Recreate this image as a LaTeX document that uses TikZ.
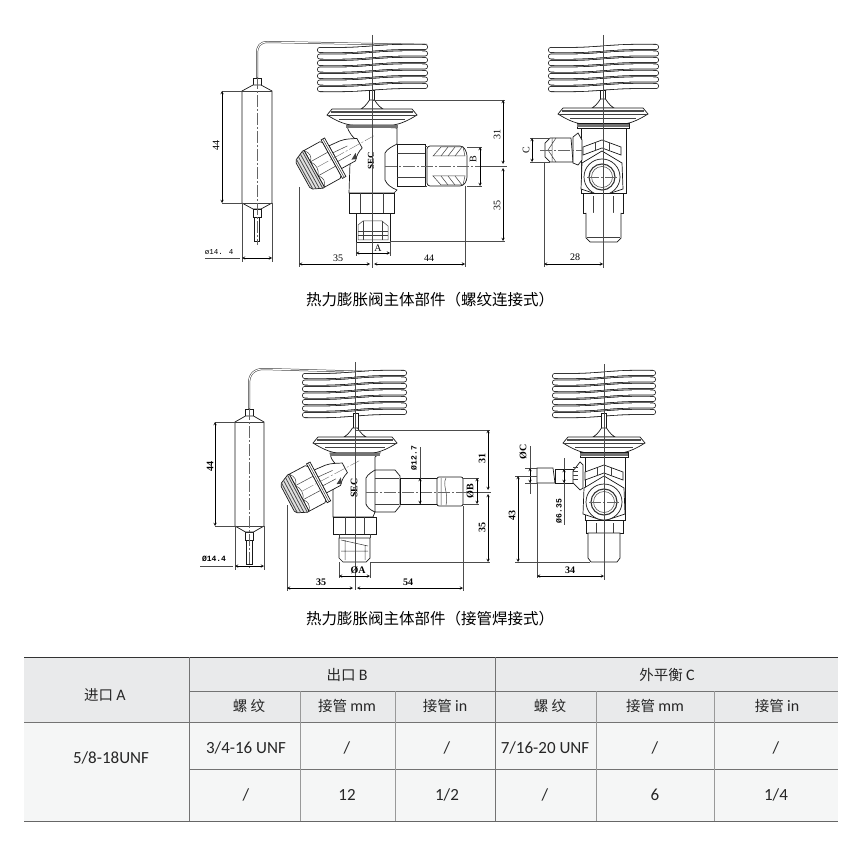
\documentclass[tikz,border=0pt]{standalone}
\usepackage{fontspec}
\setmainfont{Liberation Serif}
\newfontfamily\cjk{Noto Sans CJK SC}
\newfontfamily\monofnt{Liberation Mono}
\newfontfamily\tabfnt{Carlito}
\usetikzlibrary{arrows}
\definecolor{headgray}{HTML}{E9EAEB}
\definecolor{cellgray}{HTML}{F5F6F6}
\tikzstyle{part} = [line width=0.7pt, draw=black!90, fill=white]
\tikzstyle{detail} = [line width=0.5pt, draw=black!75]
\tikzstyle{tube} = [line width=0.8pt, draw=black!90, double=white, double distance=4.4pt, line cap=round]
\tikzstyle{capillary} = [line width=0.5pt, draw=black!80, double=white, double distance=1pt]
\tikzstyle{axis} = [line width=0.35pt, draw=black!60, dash pattern=on 12pt off 2pt on 2pt off 2pt]
\tikzstyle{extline} = [line width=0.45pt, draw=black!70]
\tikzstyle{dim} = [line width=0.45pt, draw=black, <->, >=stealth]
\tikzstyle{dimlabel} = [inner sep=0pt, font=\fontsize{10}{10}\selectfont]
\tikzstyle{dimbold} = [inner sep=0pt, font=\bfseries\fontsize{10}{10}\selectfont]
\tikzstyle{dialabel} = [inner sep=0pt, font=\monofnt\bfseries\fontsize{8}{8}\selectfont]
\tikzstyle{caption} = [inner sep=0pt, font=\cjk\fontsize{15.5}{15.5}\selectfont]
\tikzstyle{cell} = [inner sep=0pt, font=\tabfnt\fontsize{17}{17}\selectfont, text=black!85]
\tikzstyle{cnhead} = [inner sep=0pt, font=\cjk\fontsize{14.5}{14.5}\selectfont, text=black!85]
\tikzstyle{rule} = [line width=0.5pt, draw=black!55]
\newcommand{\latin}[1]{{\tabfnt\fontsize{16}{16}\selectfont #1}}

% left x, right x, top y of the capillary coil
\newcommand{\coilturns}[3]{
  \foreach \i in {6,5,...,0} {
    \draw [tube] ({#1+2},{#3+\i*6.5+3}) .. controls ({(#1+#2)/2},{#3+\i*6.5+4}) and ({(#1+#2)/2},{#3+\i*6.5-1}) .. ({#2-2},{#3+\i*6.5});
  }
}
% centre x, half width, top y of the diaphragm
\newcommand{\diaphragm}[3]{
  \draw [part] ({#1-11},{#3}) .. controls ({#1-6},{#3-3}) and ({#1-4},{#3-7}) .. ({#1-2.5},{#3-9}) -- ({#1+2.5},{#3-9}) .. controls ({#1+4},{#3-7}) and ({#1+6},{#3-3}) .. ({#1+11},{#3}) -- cycle;
  \draw [part] ({#1-#2},{#3+6}) -- ({#1-#2+5},{#3}) -- ({#1+#2-5},{#3}) -- ({#1+#2},{#3+6}) .. controls ({#1+#2-8},{#3+11}) and ({#1+#2-16},{#3+15}) .. ({#1+#2-24},{#3+16}) -- ({#1-#2+24},{#3+16}) .. controls ({#1-#2+16},{#3+15}) and ({#1-#2+8},{#3+11}) .. ({#1-#2},{#3+6}) -- cycle;
  \draw [line width=1.3pt, draw=black!70] ({#1-#2+4},{#3+3}) -- ({#1+#2-4},{#3+3});
  \draw [detail] ({#1-#2},{#3+6}) -- ({#1+#2},{#3+6});
  \draw [detail] ({#1-#2+12},{#3+10}) -- ({#1+#2-12},{#3+10});
}
% bulb: left x, right x, top y, bottom y
\newcommand{\sensorbulb}[4]{
  \draw [part] ({(#1+#2)/2-4},{#3-13}) rectangle ({(#1+#2)/2+4},{#3-6});
  \draw [part] ({(#1+#2)/2-3},{#4+12}) rectangle ({(#1+#2)/2+2.5},{#4+38});
  \draw [part] ({(#1+#2)/2-4},{#4+6}) rectangle ({(#1+#2)/2+4},{#4+14});
  \draw [part] (#1,#3) -- ({(#1+#2)/2-4},{#3-6}) -- ({(#1+#2)/2+4},{#3-6}) -- (#2,#3) -- (#2,#4) -- ({(#1+#2)/2+4},{#4+6}) -- ({(#1+#2)/2-4},{#4+6}) -- (#1,#4) -- cycle;
  \draw [detail] (#1,#3) -- (#2,#3) (#1,#4) -- (#2,#4);
  \draw [axis] ({(#1+#2)/2},{#3-14}) -- ({(#1+#2)/2},{#4+42});
}
% angled inlet: centre x, centre y, angle
\newcommand{\anglefit}[3]{
  \begin{scope}[shift={(#1,#2)}, rotate=#3]
    \draw [part] (14,-13) -- (26,-12) .. controls (33,-11) and (37,-8) .. (42,-6) -- (42,5) .. controls (38,6) and (33,9) .. (30,13) -- (14,13) -- cycle;
    \draw [detail] (14,-5) -- (30,-4) (14,5) -- (29,5);
    \fill [black!75] (27,10) -- (34,6) -- (32,12) -- cycle;
    \draw [part] (10,-22) rectangle (14,22);
    \draw [detail] (12,-22) -- (12,22);
    \draw [part] (-10,-21) -- (8,-21) -- (10,-19) -- (10,19) -- (8,21) -- (-10,21) -- cycle;
    \draw [detail] (-10,-8) -- (10,-8) (-10,8) -- (10,8);
    \draw [detail] (-10,-21) .. controls (-6,-16) and (-6,-12) .. (-10,-8) .. controls (-6,-3) and (-6,3) .. (-10,8) .. controls (-6,12) and (-6,16) .. (-10,21);
    \draw [part, fill=black!12, rounded corners=2pt] (-23,-16) -- (-10,-22) -- (-10,22) -- (-23,16) -- cycle;
    \foreach \u in {-21,-18,-15,-12} {
      \draw [line width=0.8pt, draw=black!70] (\u,{-16-(\u+23)*0.46}) -- (\u,{16+(\u+23)*0.46});
    }
    \draw [axis] (-6,0) -- (58,0);
  \end{scope}
}
% front face of the inlet in the side view: centre x, centre y
\newcommand{\facefit}[2]{
  \draw [part] ({#1-20},{#2-14}) -- ({#1},{#2-26}) -- ({#1+20},{#2-14}) -- ({#1+21},{#2+12}) -- ({#1},{#2+19}) -- ({#1-21},{#2+12}) -- cycle;
  \draw [part] ({#1-19},{#2-30}) -- ({#1},{#2-37}) -- ({#1+19},{#2-30}) -- ({#1+19},{#2-22}) -- ({#1},{#2-29}) -- ({#1-19},{#2-22}) -- cycle;
  \draw [detail] ({#1-7},{#2-34}) -- ({#1-7},{#2-26}) ({#1+7},{#2-34}) -- ({#1+7},{#2-26});
  \draw [part] (#1,#2) circle (18);
  \draw [line width=1.1pt, draw=black!80] (#1,#2) circle (13);
  \draw [detail] (#1,#2) circle (10.5);
  \draw [axis] ({#1-15},{#2}) -- ({#1+15},{#2});
}

\begin{document}
\begin{tikzpicture}[x=1pt, y=-1pt]
\useasboundingbox (0,0) rectangle (864,842);

% ---- threaded version, front view
\draw [capillary] (257,78) -- (257,54) .. controls (257,46) and (260,42) .. (268,42) -- (427,45);
\sensorbulb{242}{272}{91}{203}
\coilturns{318}{427}{47}
\draw [part] (369.5,90) rectangle (374.5,100);
\diaphragm{372}{45}{109}
\draw [part] (397,144) -- (425,144) -- (425,186) -- (397,186) -- cycle;
\draw [detail] (397,153) -- (425,153) (397,177) -- (425,177);
\draw [part] (347,125) .. controls (348,133) and (354,138) .. (358,142) -- (350,163) -- (349,193) -- (394,193) -- (397,190) .. controls (392,188) and (387,185) .. (385,180) -- (385,153) .. controls (387,149) and (393,146) .. (397,144) -- (397,128) -- cycle;
\draw [line width=2.4pt, draw=black!55] (346,126.5) -- (398,126.5);
\draw [part, rounded corners=3pt] (427,146) -- (463,146) -- (467,153) -- (467,180) -- (463,186) -- (427,186) -- cycle;
\draw [detail] (425,146) -- (427,146) (425,186) -- (427,186);
\draw [detail] (433,156) -- (441,147) -- (463,147) -- (465,156) -- cycle;
\draw [detail] (433,176) -- (441,185) -- (463,185) -- (465,176) -- cycle;
\foreach \h in {441,448,455} {
  \draw [detail] (\h,156) -- ({\h+7},147);
  \draw [detail] (\h,176) -- ({\h+7},185);
}
\anglefit{323}{164}{29}
\draw [part] (349,193) -- (394,193) -- (394,213) -- (349,213) -- cycle;
\draw [detail] (360,193) -- (360,213) (383,193) -- (383,213);
\draw [part] (356,213) rectangle (390,242);
\draw [detail] (358,225) -- (363,221) -- (382,221) -- (388,226) -- (388,240) -- (358,240) -- cycle;
\draw [detail] (358,231) -- (388,231) (358,235) -- (388,235) (363,221) -- (363,240) (382,221) -- (382,240);
\node (sectop) [inner sep=0pt, rotate=90, font=\bfseries\fontsize{9}{9}\selectfont] at (371,161) {SEC};
% centre lines
\draw [extline] (372,35) -- (372,268);
\draw [axis] (385,166) -- (480,166);
\draw [extline] (480,166) -- (507,166);
% dimensions
\draw [extline] (222,91) -- (242,91) (222,203) -- (242,203);
\draw [dim] (222,91) -- (222,203);
\node (bulblen) [dimlabel, rotate=90] at (216,146) {44};
\draw [extline] (242,203) -- (242,262) (272,203) -- (272,262);
\draw [extline] (205,258) -- (240,258);
\draw [dim] (242,258) -- (272,258);
\node (bulbdia) [dialabel, font=\monofnt\fontsize{7.5}{7.5}\selectfont] at (219,252) {ø14. 4};
\draw [extline] (372,100) -- (505,100) (390,241) -- (505,241);
\draw [dim] (503,100) -- (503,164);
\draw [dim] (503,168) -- (503,241);
\node (topheight) [dimlabel, rotate=90] at (497,135) {31};
\node (botheight) [dimlabel, rotate=90] at (497,206) {35};
\draw [extline] (467,147) -- (482,147) (467,186) -- (482,186);
\draw [dim] (480,147) -- (480,186);
\node (labelb) [dimlabel, rotate=90] at (473,159) {B};
\draw [extline] (356,242) -- (356,256) (390,242) -- (390,256);
\draw [dim] (356,253) -- (390,253);
\node (labela) [dimlabel] at (378,248) {A};
\draw [extline] (299,187) -- (299,267) (465,186) -- (465,267);
\draw [dim] (299,264) -- (370,264);
\draw [dim] (374,264) -- (465,264);
\node (leftlen) [dimlabel] at (338,258) {35};
\node (rightlen) [dimlabel] at (429,258) {44};

% ---- threaded version, side view
\coilturns{549}{658}{47}
\draw [part] (600.5,90) rectangle (605.5,100);
\diaphragm{603}{45}{108}
\draw [part] (577,123) rectangle (629,128);
\draw [line width=2.4pt, draw=black!55] (577,125.5) -- (629,125.5);
\draw [part] (581,128) rectangle (626,193);
\draw [part] (550,138) -- (571,138) -- (573,162) -- (550,162) -- (545,157) -- (545,143) -- cycle;
\draw [detail] (552,138) -- (552,162) (556,138) -- (548,150) -- (556,162);
\draw [part] (573,137) -- (578,133) -- (582,140) -- (582,160) -- (578,165) -- (573,163) -- cycle;
\facefit{602}{177}
\draw [part] (583,193) rectangle (623,213);
\draw [detail] (593,196) -- (593,213) (613,196) -- (613,213);
\draw [part] (586,213) -- (586,238) -- (590,242) -- (617,242) -- (621,238) -- (621,213);
\draw [detail] (587,237) -- (620,237);
\draw [extline] (603,35) -- (603,268);
\draw [axis] (540,150) -- (582,150);
\draw [extline] (530,138) -- (550,138) (530,162) -- (550,162);
\draw [dim] (532,138) -- (532,162);
\node (labelc) [dimlabel, rotate=90] at (526,150) {C};
\draw [extline] (544,162) -- (544,267);
\draw [dim] (544,264) -- (603,264);
\node (sidelen) [dimlabel] at (575,257) {28};

\node (captop) [caption] at (430,300) {热力膨胀阀主体部件（螺纹连接式）};

% ---- brazed version, front view
\draw [capillary] (249,409) -- (249,384) .. controls (249,374) and (254,369) .. (264,369) -- (406,373);
\sensorbulb{235}{264}{422}{526}
\coilturns{303}{406}{373}
\draw [part] (353,413) rectangle (358,430);
\diaphragm{355}{42}{437}
\draw [part] (375,470) -- (395,470) -- (400,476) -- (400,506) -- (395,512) -- (375,512) -- cycle;
\draw [detail] (375,478) -- (399,478) (375,504) -- (399,504);
\draw [part] (330,453) .. controls (331,462) and (338,466) .. (343,469) -- (333,490) -- (333,517) -- (373,517) -- (375,512) .. controls (370,510) and (367,507) .. (366,504) -- (366,478) .. controls (368,474) and (372,472) .. (375,470) -- (375,457) -- (380,453) -- cycle;
\draw [line width=2.4pt, draw=black!55] (330,454.5) -- (380,454.5);
\draw [part] (400,478) rectangle (437,504);
\draw [part, rounded corners=2pt] (437,477) -- (463,477) -- (463,506) -- (437,506) -- cycle;
\draw [detail] (446,478) .. controls (442,485) and (449,494) .. (446,505) (441,478) -- (441,505);
\anglefit{308}{488}{28}
\draw [part] (333,517) -- (376,517) -- (376,534) -- (333,534) -- cycle;
\draw [detail] (345,517) -- (345,534) (364,517) -- (364,534);
\draw [part] (339,538) -- (370,538) -- (370,558) -- (366,562) -- (343,562) -- (339,558) -- cycle;
\draw [detail] (339,534) -- (339,538) (370,534) -- (370,538);
\draw [detail] (341,540) -- (368,546) (341,551) -- (368,551) (345,540) -- (345,560) (365,545) -- (365,560);
\node (secbot) [inner sep=0pt, rotate=90, font=\bfseries\fontsize{10}{10}\selectfont] at (354,488) {SEC};
\draw [extline] (355,362) -- (355,590);
\draw [axis] (366,492) -- (470,492);
\draw [extline] (470,492) -- (491,492);
\draw [extline] (215,422) -- (235,422) (215,526) -- (235,526);
\draw [dim] (215,422) -- (215,526);
\node (bulblenb) [dimbold, rotate=90] at (210,466) {44};
\draw [extline] (235,526) -- (235,570) (264,526) -- (264,570);
\draw [extline] (200,566) -- (233,566);
\draw [dim] (235,566) -- (264,566);
\node (bulbdiab) [dialabel] at (214,559) {Ø14.4};
\draw [extline] (355,430) -- (490,430) (370,562) -- (490,562);
\draw [dim] (488,430) -- (488,490);
\draw [dim] (488,494) -- (488,562);
\node (topheightb) [dimbold, rotate=90] at (482,458) {31};
\node (botheightb) [dimbold, rotate=90] at (482,527) {35};
\draw [extline] (463,478) -- (479,478) (463,504) -- (479,504);
\draw [dim] (477,478) -- (477,504);
\node (labelbb) [dimbold, rotate=90] at (470,491) {ØB};
\draw [extline] (420,447) -- (420,504);
\draw [dim] (420,478) -- (420,504);
\node (pipedia) [dialabel, rotate=90] at (414,458) {Ø12.7};
\draw [extline] (339,562) -- (339,578) (370,562) -- (370,578);
\draw [dim] (339,576) -- (370,576);
\node (labelab) [dimbold] at (358,570) {ØA};
\draw [extline] (287,505) -- (287,591) (463,506) -- (463,591);
\draw [dim] (287,588) -- (353,588);
\draw [dim] (357,588) -- (463,588);
\node (leftlenb) [dimbold] at (321,582) {35};
\node (rightlenb) [dimbold] at (408,582) {54};

% ---- brazed version, side view
\coilturns{553}{655}{373}
\draw [part] (601.5,413) rectangle (606.5,430);
\diaphragm{604}{41}{437}
\draw [part] (580,452) rectangle (628,457);
\draw [line width=2.4pt, draw=black!55] (580,454.5) -- (628,454.5);
\draw [part] (585,457) rectangle (625,520);
\draw [part] (537,468) -- (553,468) -- (555,483) -- (537,483) -- cycle;
\draw [part] (555,469) rectangle (573,483);
\draw [part] (573,471) -- (580,462) -- (583,465) -- (583,488) -- (580,490) -- (573,483) -- cycle;
\foreach \h in {466,470,474,478} {
  \draw [detail] (573,\h+1) -- (578,\h+1);
}
\facefit{604}{502}
\draw [part] (586,520) rectangle (623,533);
\draw [detail] (596,523) -- (596,533) (613,523) -- (613,533);
\draw [part] (588,533) -- (588,558) -- (591,562) -- (617,562) -- (620,558) -- (620,533) -- cycle;
\draw [extline] (604,364) -- (604,580);
\draw [extline] (530,446) -- (530,494);
\draw [extline] (525,468) -- (537,468) (525,483) -- (537,483);
\draw [dim] (530,468) -- (530,483);
\node (labelcb) [dimbold, rotate=90] at (523,452) {ØC};
\draw [extline] (564,458) -- (564,525);
\draw [dim] (564,469) -- (564,483);
\node (stubdia) [dialabel, rotate=90] at (559,511) {Ø6.35};
\draw [extline] (515,476) -- (537,476) (515,562) -- (590,562);
\draw [dim] (518,476) -- (518,562);
\node (sideheight) [dimbold, rotate=90] at (512,515) {43};
\draw [extline] (537,483) -- (537,578);
\draw [dim] (537,576) -- (604,576);
\node (sidelenb) [dimbold] at (570,570) {34};

\node (capbot) [caption] at (430,619) {热力膨胀阀主体部件（接管焊接式）};

% ---- table
\fill [cellgray] (24,722) rectangle (838,821);
\fill [headgray] (24,657) rectangle (838,722);
\draw [line width=0.9pt, draw=black!80] (24,657) -- (838,657);
\draw [line width=0.9pt, draw=black!60] (24,821) -- (838,821);
\draw [rule] (24,722) -- (838,722);
\draw [rule] (189,691) -- (838,691);
\draw [rule] (189,769) -- (838,769);
\draw [rule] (189,657) -- (189,821);
\draw [rule] (495,657) -- (495,821);
\foreach \colx in {300,395,596,714} {
  \draw [rule, draw=black!40] (\colx,691) -- (\colx,821);
}
\node (inlet) [cnhead] at (105,695) {进口 \latin{A}};
\node (outlet) [cnhead] at (347,675) {出口 \latin{B}};
\node (balance) [cnhead] at (667,675) {外平衡 \latin{C}};
\node (ha) [cnhead] at (249,706) {螺 纹};
\node (hb) [cnhead] at (347,706) {接管 \latin{mm}};
\node (hc) [cnhead] at (445,706) {接管 \latin{in}};
\node (hd) [cnhead] at (550,706) {螺 纹};
\node (he) [cnhead] at (655,706) {接管 \latin{mm}};
\node (hf) [cnhead] at (777,706) {接管 \latin{in}};
\node (inletval) [cell] at (111,758) {5/8-18UNF};
\node (ca) [cell] at (246,748) {3/4-16 UNF};
\node (cb) [cell] at (347,748) {/};
\node (cc) [cell] at (447,748) {/};
\node (cd) [cell] at (545,748) {7/16-20 UNF};
\node (ce) [cell] at (655,748) {/};
\node (cf) [cell] at (776,748) {/};
\node (da) [cell] at (246,795) {/};
\node (db) [cell] at (347,795) {12};
\node (dc) [cell] at (447,795) {1/2};
\node (dd) [cell] at (545,795) {/};
\node (de) [cell] at (655,795) {6};
\node (df) [cell] at (776,795) {1/4};
\end{tikzpicture}
\end{document}
